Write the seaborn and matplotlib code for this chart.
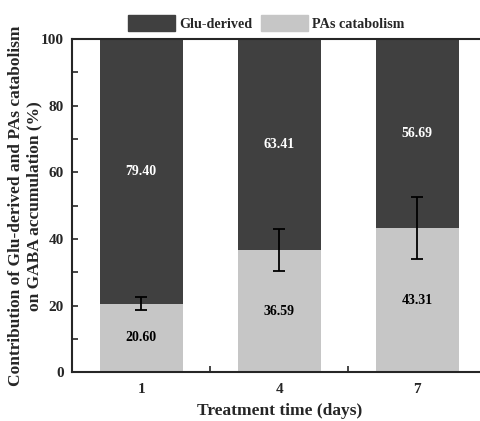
import matplotlib
matplotlib.use("Agg")
import matplotlib.pyplot as plt
import matplotlib.patches as mpatches
from matplotlib.ticker import MultipleLocator, FixedLocator
import seaborn as sns
import pandas as pd

# Data
days = ["1", "4", "7"]
glu_derived = [79.40, 63.41, 56.69]
pas_catabolism = [20.60, 36.59, 43.31]
pas_err = [1.9, 6.3, 9.4]

dark = "#404040"
light = "#c6c6c6"

sns.set_style("ticks")
plt.rcParams["font.family"] = ["Liberation Serif", "DejaVu Serif"]
plt.rcParams["font.weight"] = "bold"

df = pd.DataFrame({"day": days, "glu": glu_derived, "pas": pas_catabolism, "err": pas_err})
df["total"] = df["glu"] + df["pas"]

fig = plt.figure(figsize=(4.81, 4.21), dpi=100)
ax = fig.add_axes([0.150, 0.116, 0.861, 0.791])

sns.barplot(ax=ax, data=df, x="day", y="total", color=dark, width=0.6,
            saturation=1, errorbar=None, linewidth=0)
sns.barplot(ax=ax, data=df, x="day", y="pas", color=light, width=0.6,
            saturation=1, errorbar=None, linewidth=0)
ax.errorbar(range(len(days)), df["pas"], yerr=df["err"], fmt="none",
            ecolor="black", elinewidth=1.3, capsize=4, capthick=1.3)

for i, row in df.iterrows():
    ax.text(i, row["pas"] + row["glu"] / 2, f"{row['glu']:.2f}", ha="center",
            va="center", color="white", fontsize=10, fontweight="bold")
    ax.text(i, row["pas"] / 2, f"{row['pas']:.2f}", ha="center",
            va="center", color="black", fontsize=10, fontweight="bold")

ax.set_xlim(-0.5, 2.5)
ax.set_ylim(0, 100)
ax.yaxis.set_major_locator(MultipleLocator(20))
ax.yaxis.set_minor_locator(MultipleLocator(10))
ax.xaxis.set_minor_locator(FixedLocator([0.5, 1.5]))
ax.tick_params(axis="y", which="both", direction="in", length=4, width=1.2, labelsize=11, pad=6)
ax.tick_params(axis="x", which="major", length=0, labelsize=11, pad=8)
ax.tick_params(axis="x", which="minor", direction="in", length=4, width=1.2)
for s in ax.spines.values():
    s.set_linewidth(1.5)

ax.set_xlabel("Treatment time (days)", fontsize=12.5, fontweight="bold", labelpad=5)
ax.set_ylabel("Contribution of Glu-derived and PAs catabolism\non GABA accumulation (%)",
              fontsize=12.5, fontweight="bold", labelpad=-1)

handles = [mpatches.Patch(color=dark, label="Glu-derived"),
           mpatches.Patch(color=light, label="PAs catabolism")]
ax.legend(handles=handles, loc="lower center", bbox_to_anchor=(0.469, 1.0), ncol=2,
          frameon=False, fontsize=10.2, handlelength=3.3, handleheight=1.3,
          columnspacing=0.6, handletextpad=0.3, borderaxespad=0.2)

fig.savefig("out.png", dpi=100)
